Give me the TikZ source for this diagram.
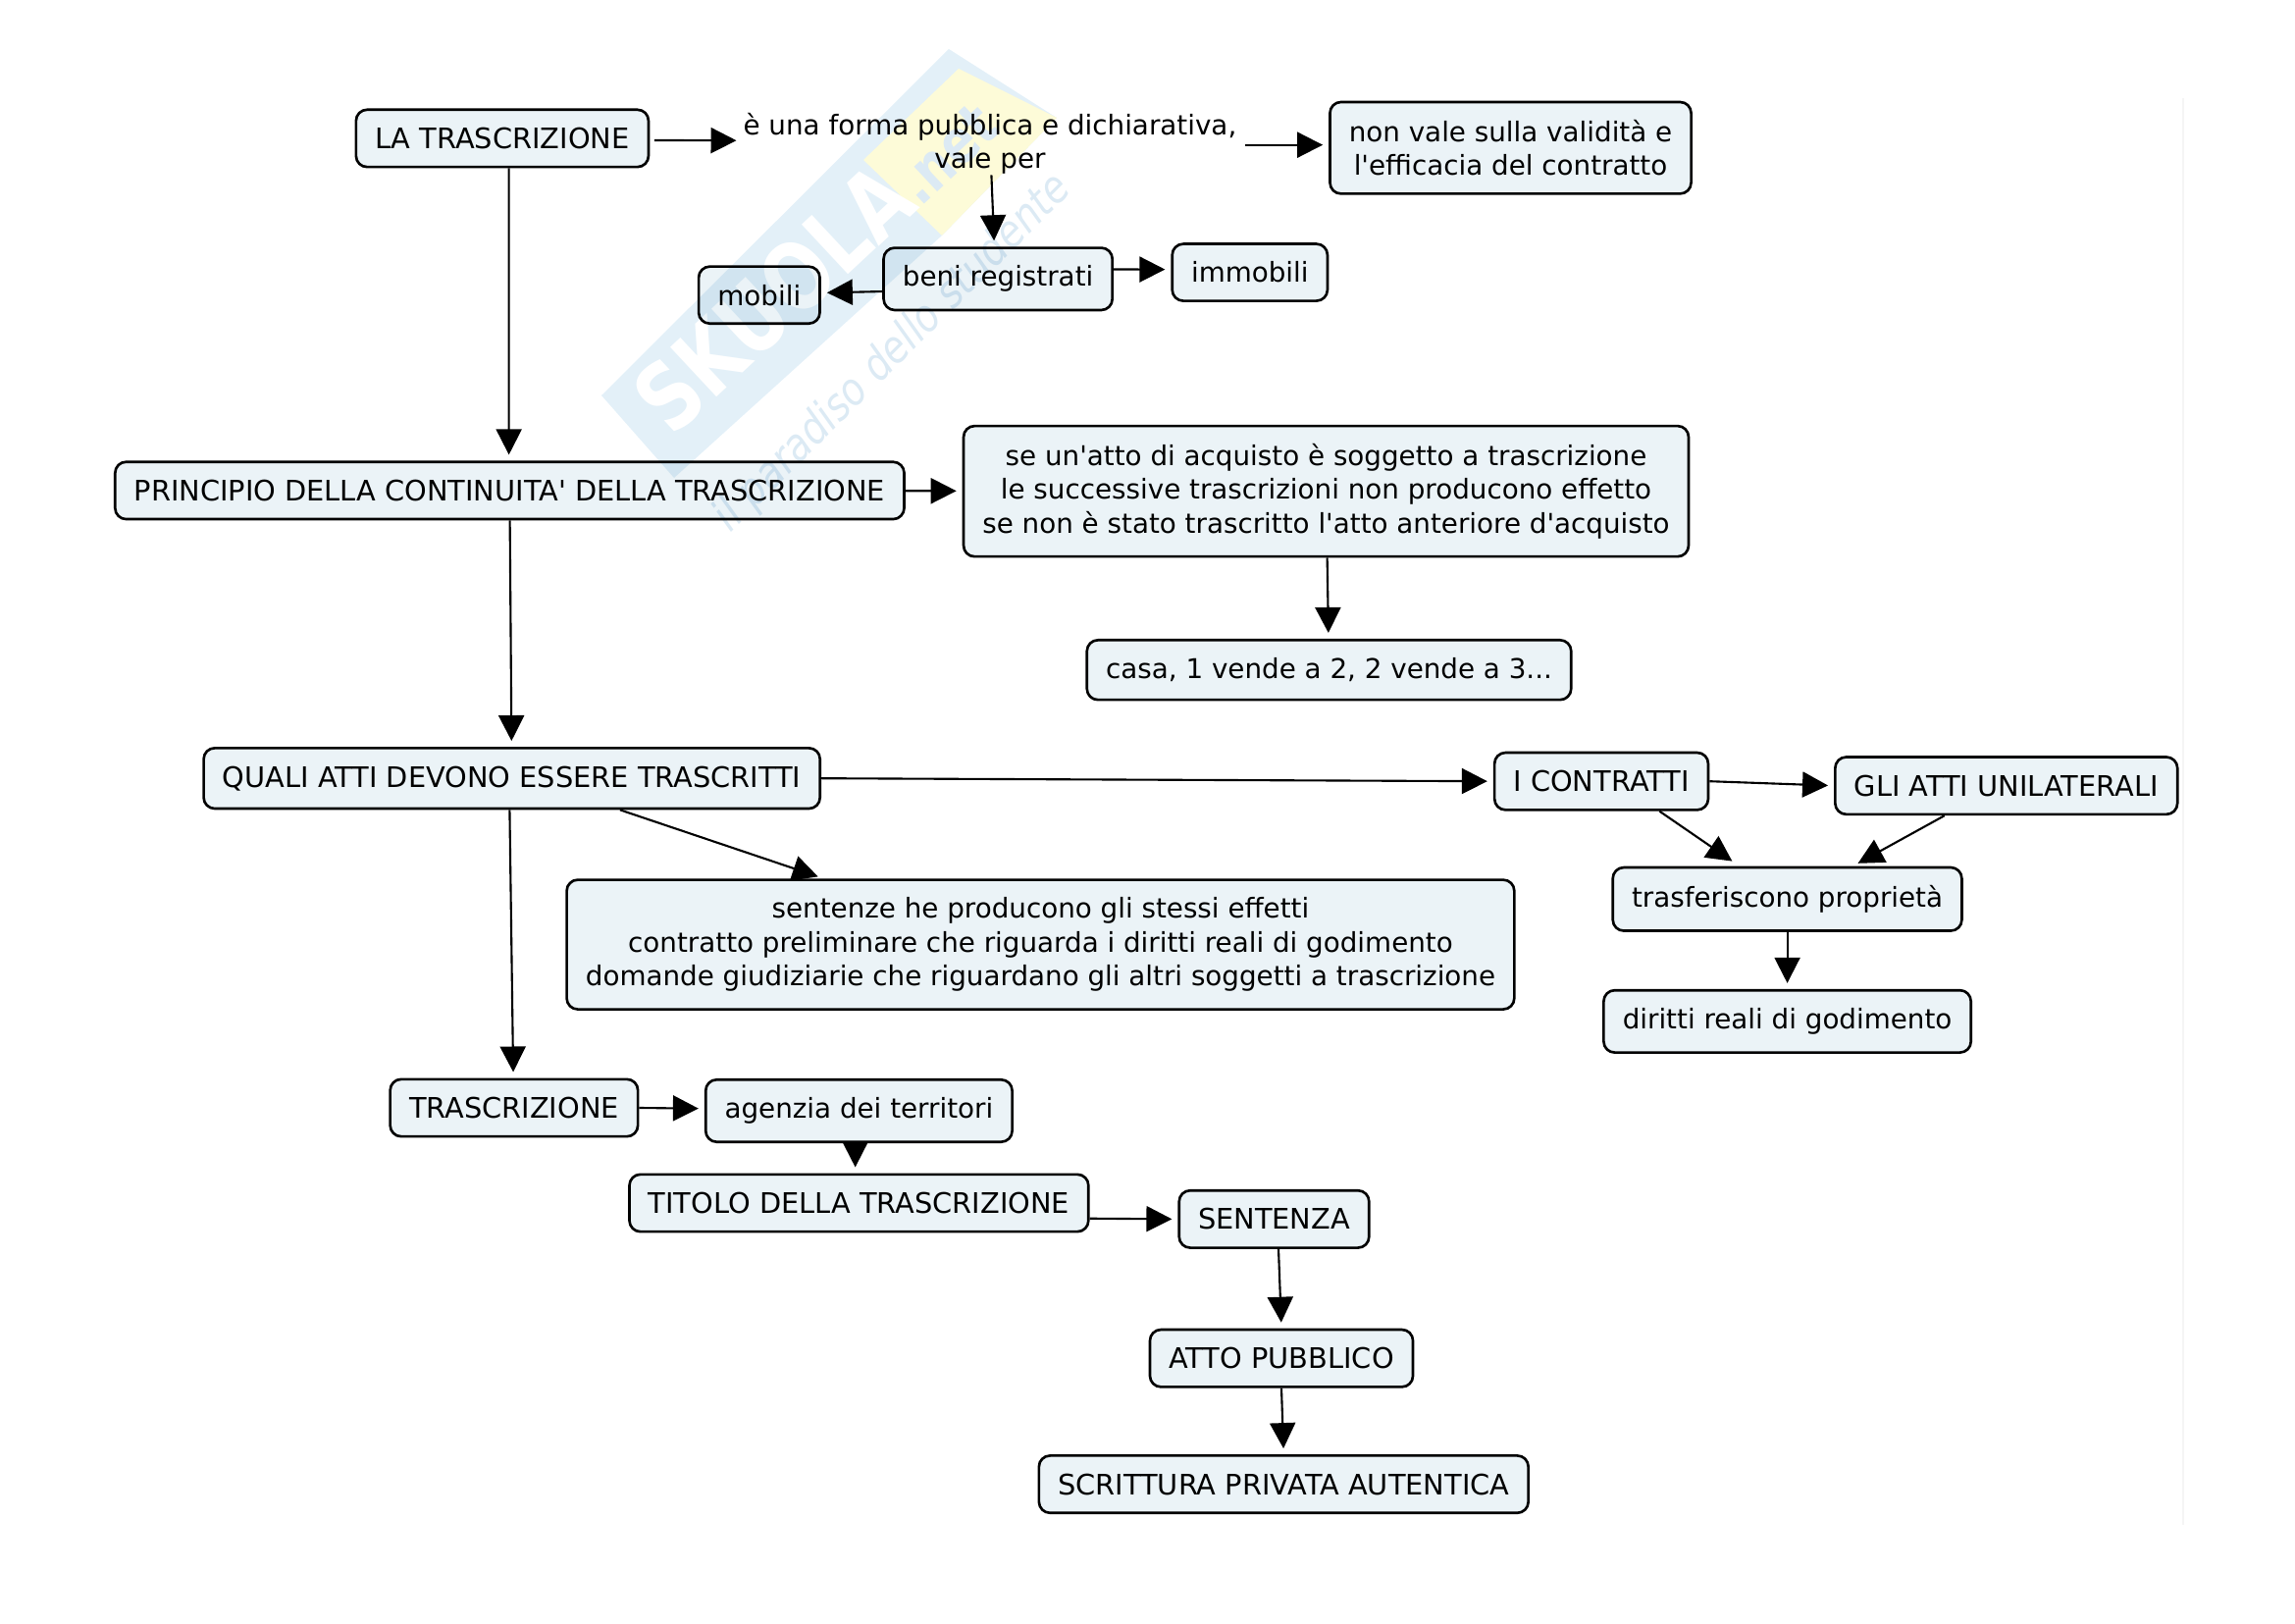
\documentclass[tikz,border=0pt]{standalone}
\usepackage{fontspec}
\setmainfont{DejaVu Sans}
\usetikzlibrary{arrows.meta}
\usetikzlibrary{positioning}
\definecolor{boxfill}{HTML}{EBF3F7}
\definecolor{markblue}{HTML}{E3F0F8}
\definecolor{markyellow}{HTML}{FDFBD8}
\definecolor{marktext}{HTML}{DCEAF4}
\begin{document}
\begin{tikzpicture}[-,auto,semithick,font=\fontsize{8.2}{9.8}\selectfont]
 		\tikzstyle{cbox}=[draw, fill=boxfill, rounded corners=3.2pt, align=center, inner xsep=5.5pt, inner ysep=5.2pt, line width=0.75pt, blend mode=multiply]
 		\tikzstyle{lbox}=[cbox, font=\fontsize{7.9}{9.75}\selectfont]
 		\tikzstyle{plain}=[align=center, inner sep=0pt, font=\fontsize{7.9}{9.75}\selectfont]
 		\tikzstyle{link}=[-{Triangle[length=7.4pt,width=7.4pt]}, shorten >=0.06cm]
 		\useasboundingbox (0,0) rectangle (23.39,16.54);
 			\fill[markblue] (6.13,12.51) -- (9.67,16.04) -- (10.77,15.34) -- (9.60,14.14) -- (6.87,11.67) -- cycle;
 			\fill[markyellow] (9.77,15.84) -- (10.77,15.34) -- (9.60,14.14) -- (8.80,14.91) -- cycle;
 			\node[rotate=43, white, xscale=.8] (markname) at (8.30,13.89) {\fontsize{27}{27}\selectfont\bfseries SKUOLA{\fontsize{18}{18}\selectfont\color{marktext}.net}};
 			\node[rotate=45, marktext, xscale=.85] (marktag) at (9.10,12.94) {\fontsize{13}{13}\selectfont\itshape il paradiso dello studente};
 			\draw[line width=0.6pt, black!4] (22.25,15.54) -- (22.25,1.00);

			\node[cbox] (lat) at (5.119,15.13) {LA TRASCRIZIONE};
			\node[plain] (forma) [right of=lat, node distance=4.970cm, yshift=-0.052cm] {è una forma pubblica e dichiarativa,\\vale per};
			\node[lbox] (nonvale) [right of=forma, node distance=5.306cm, yshift=-0.045cm] {non vale sulla validità e\\l\textquotesingle efficacia del contratto};
			\node[lbox] (beni) [below of=forma, node distance=1.381cm, xshift=0.082cm] {beni registrati};
			\node[lbox] (mobili) [left of=beni, node distance=2.433cm, yshift=-0.164cm] {mobili};
			\node[lbox] (immobili) [right of=beni, node distance=2.567cm, yshift=0.067cm] {immobili};
			\node[cbox] (princ) [below of=lat, node distance=3.589cm, xshift=0.075cm] {PRINCIPIO DELLA CONTINUITA\textquotesingle{} DELLA TRASCRIZIONE};
			\node[lbox] (atto) [right of=princ, node distance=8.321cm, yshift=-0.0075cm] {se un\textquotesingle atto di acquisto è soggetto a trascrizione\\le successive trascrizioni non producono effetto\\se non è stato trascritto l\textquotesingle atto anteriore d\textquotesingle acquisto};
			\node[lbox] (casa) [below of=atto, node distance=1.821cm, xshift=0.03cm] {casa, 1 vende a 2, 2 vende a 3...};
			\node[cbox] (quali) [below of=princ, node distance=2.933cm, xshift=0.0225cm] {QUALI ATTI DEVONO ESSERE TRASCRITTI};
			\node[cbox] (contr) [right of=quali, node distance=11.104cm, yshift=-0.03cm] {I CONTRATTI};
			\node[cbox] (unil) [right of=contr, node distance=4.127cm, yshift=-0.045cm] {GLI ATTI UNILATERALI};
			\node[lbox] (trasf) [below of=contr, node distance=1.201cm, xshift=1.895cm] {trasferiscono proprietà};
			\node[lbox] (diritti) [below of=trasf, node distance=1.246cm] {diritti reali di godimento};
			\node[lbox] (sent) [right of=quali, node distance=5.388cm, yshift=-1.694cm] {sentenze he producono gli stessi effetti\\contratto preliminare che riguarda i diritti reali di godimento\\domande giudiziarie che riguardano gli altri soggetti a trascrizione};
			\node[cbox] (trascr) [below of=quali, node distance=3.358cm, xshift=0.0225cm] {TRASCRIZIONE};
			\node[lbox] (agenzia) [right of=trascr, node distance=3.515cm, yshift=-0.03cm] {agenzia dei territori};
			\node[cbox] (titolo) [below of=agenzia, node distance=0.940cm] {TITOLO DELLA TRASCRIZIONE};
			\node[cbox] (sentenza) [right of=titolo, node distance=4.231cm, yshift=-0.164cm] {SENTENZA};
			\node[cbox] (pubblico) [below of=sentenza, node distance=1.418cm, xshift=0.075cm] {ATTO PUBBLICO};
			\node[cbox] (privata) [below of=pubblico, node distance=1.284cm, xshift=0.0225cm] {SCRITTURA PRIVATA AUTENTICA};

			\draw[link, shorten <=0.045cm] ([yshift=-0.02cm]lat.east) -- ([yshift=0.03cm]forma.west);
			\draw[link, shorten <=0.075cm] ([yshift=-0.015cm]forma.east) -- ([yshift=0.03cm]nonvale.west);
			\draw[link] ([xshift=0.015cm]forma.south) -- ([xshift=-0.0375cm]beni.north);
			\draw[link] ([yshift=-0.1275cm]beni.west) -- ([yshift=0.0225cm]mobili.east);
			\draw[link] ([yshift=0.0975cm]beni.east) -- ([yshift=0.03cm]immobili.west);
			\draw[link] ([xshift=0.0675cm]lat.south) -- ([xshift=-0.0075cm]princ.north);
			\draw[link] (princ) -- (atto);
			\draw[link] (atto) -- (casa);
			\draw[link] (princ) -- (quali);
			\draw[link] (quali.east) -- (contr.west);
			\draw[link] (contr.east) -- (unil.west);
			\draw[link, shorten >=0.09cm] ([xshift=0.5925cm]contr.south) -- ([xshift=-0.4875cm]trasf.north);
			\draw[link] ([xshift=-0.63cm]unil.south) -- ([xshift=0.6675cm]trasf.north);
			\draw[link] ([xshift=1.1025cm]quali.south) -- ([xshift=-2.21cm]sent.north);
			\draw[link] ([xshift=-0.0225cm]quali.south) -- ([xshift=-0.0075cm]trascr.north);
			\draw[link] (trasf.south) -- (diritti.north);
			\draw[link] (trascr.east) -- ([yshift=0.0225cm]agenzia.west);
			\draw[link] ([xshift=-0.0375cm]agenzia.south) -- ([xshift=-0.0375cm]titolo.north);
			\draw[link] ([yshift=-0.1575cm]titolo.east) -- (sentenza.west);
			\draw[link] ([xshift=0.045cm]sentenza.south) -- (pubblico.north);
			\draw[link] (pubblico.south) -- (privata.north);
 	\end{tikzpicture}
\end{document}
